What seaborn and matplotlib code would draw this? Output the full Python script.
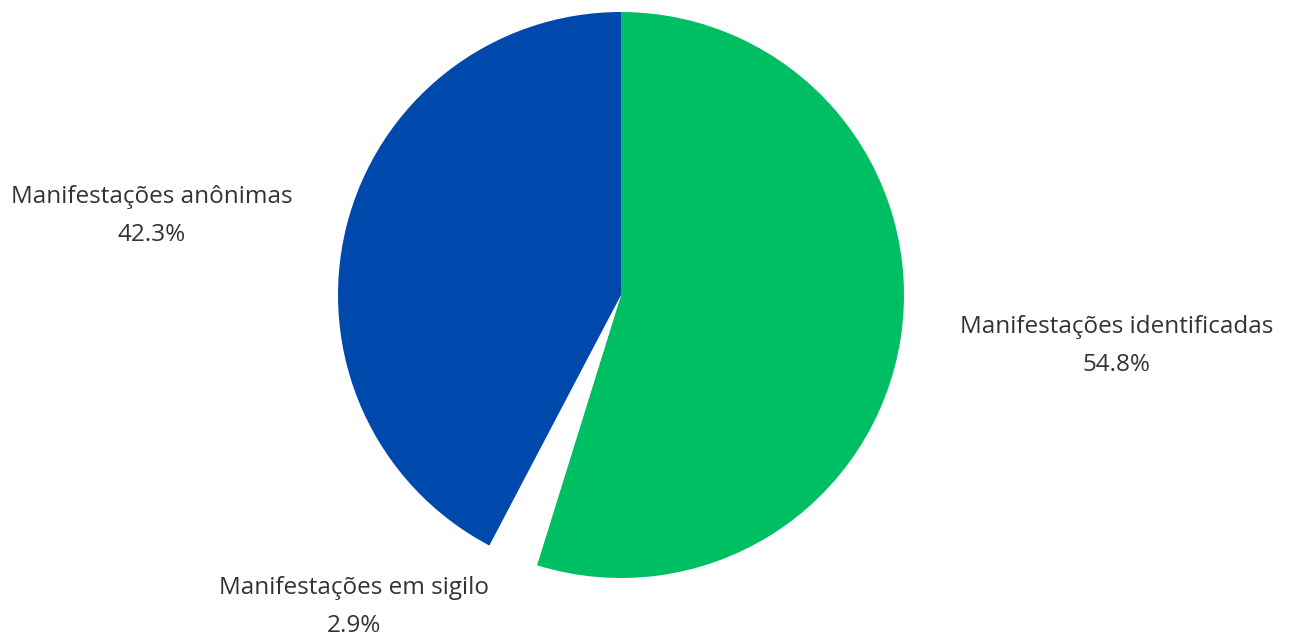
import matplotlib
matplotlib.use("Agg")
import matplotlib.pyplot as plt
import seaborn as sns

categories = ["Manifestações identificadas", "Manifestações em sigilo", "Manifestações anônimas"]
shares = [54.8, 2.9, 42.3]
slice_colors = ["#00BF63", "#FFFFFF", "#0049AC"]

sns.set_theme(style="white")
plt.rcParams["font.family"] = ["Open Sans", "DejaVu Sans"]

W, H = 1292, 639
fig = plt.figure(figsize=(W / 100, H / 100), dpi=100)
ax = fig.add_axes([0, 0, 1, 1])

cx, cy, r = 621, H - 295, 283
ax.pie(shares, colors=slice_colors, startangle=90, counterclock=False,
       center=(cx, cy), radius=r, wedgeprops=dict(linewidth=0))

ax.set_xlim(0, W)
ax.set_ylim(0, H)
ax.set_aspect("equal")
ax.axis("off")

label_pos = [(1117, H - 346), (354, H - 607), (152, H - 216)]
for name, val, (lx, ly) in zip(categories, shares, label_pos):
    ax.text(lx, ly, f"{name}\n{val:.1f}%", ha="center", va="center",
            fontsize=17.5, color="#333333", linespacing=1.8)

fig.savefig("out.png", dpi=100, facecolor="white")
